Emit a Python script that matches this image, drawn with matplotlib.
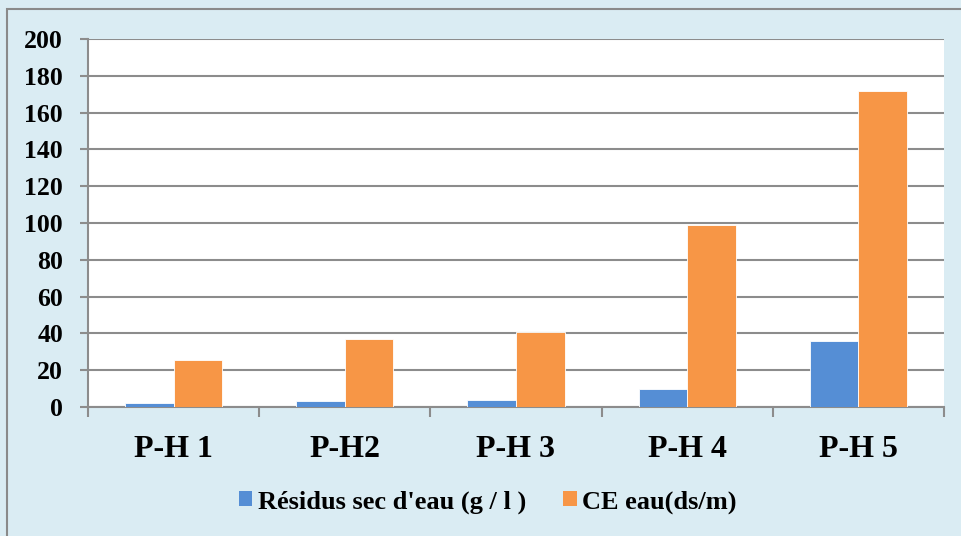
import matplotlib
matplotlib.use("Agg")
import matplotlib.pyplot as plt
import numpy as np
from matplotlib.patches import Rectangle, Patch

categories = ["P-H 1", "P-H2", "P-H 3", "P-H 4", "P-H 5"]
residus_sec = [2.2, 3.3, 3.8, 9.7, 35.8]
ce_eau = [25.7, 37.0, 40.8, 98.8, 171.8]
series_names = ["Résidus sec d'eau (g / l )", "CE eau(ds/m)"]
y_ticks = [0, 20, 40, 60, 80, 100, 120, 140, 160, 180, 200]

blue = "#558ED5"
orange = "#F79646"
bg = "#DAECF3"
grid = "#8C8C8C"

plt.rcParams["font.family"] = ["Liberation Serif", "DejaVu Serif"]
plt.rcParams["font.weight"] = "bold"

fig = plt.figure(figsize=(9.61, 5.36), dpi=100)
fig.patch.set_facecolor(bg)

# outer chart frame (top and left edges visible)
frame = Rectangle((7 / 961, -0.05), 1.1, 1 - 9 / 536 + 0.05, transform=fig.transFigure,
                  facecolor="none", edgecolor="#8A8A8A", linewidth=1.5, zorder=0)
fig.patches.append(frame)

ax = fig.add_axes([88 / 961, 1 - 407 / 536, (944 - 88) / 961, (407 - 39) / 536])
ax.set_facecolor("white")

x = np.arange(len(categories))
w = 0.284
ax.bar(x - w / 2, residus_sec, width=w, color=blue, edgecolor="white", linewidth=0.6, zorder=3)
ax.bar(x + w / 2, ce_eau, width=w, color=orange, edgecolor="white", linewidth=0.6, zorder=3)

ax.set_xlim(-0.5, len(categories) - 0.5)
ax.set_ylim(0, 200)
ax.set_yticks(y_ticks)
ax.set_yticklabels([str(v) for v in y_ticks], fontsize=18.5, fontweight="bold")
ax.yaxis.grid(True, color=grid, linewidth=1.5, zorder=1)
ax.set_axisbelow(True)

# category boundary ticks and centred labels
ax.set_xticks(np.arange(-0.5, len(categories), 1.0))
ax.set_xticklabels([])
ax.set_xticks(x, minor=True)
ax.set_xticklabels(categories, minor=True, fontsize=23, fontweight="bold")
ax.tick_params(axis="x", which="major", length=7, width=1.5, color=grid, direction="out")
ax.tick_params(axis="x", which="minor", length=0, pad=20)
ax.tick_params(axis="y", length=6, width=1.5, color=grid, pad=12)

for side in ("top", "right"):
    ax.spines[side].set_visible(False)
for side in ("left", "bottom"):
    ax.spines[side].set_color(grid)
    ax.spines[side].set_linewidth(1.5)

handles = [Patch(facecolor=blue), Patch(facecolor=orange)]
fig.legend(handles, series_names, loc="center", bbox_to_anchor=(488 / 961, 1 - 502 / 536),
           ncol=2, frameon=False, prop={"size": 19, "weight": "bold"},
           handlelength=0.5, handleheight=0.5, handletextpad=0.22, columnspacing=1.4)

fig.savefig("out.png", dpi=100, facecolor=bg)
